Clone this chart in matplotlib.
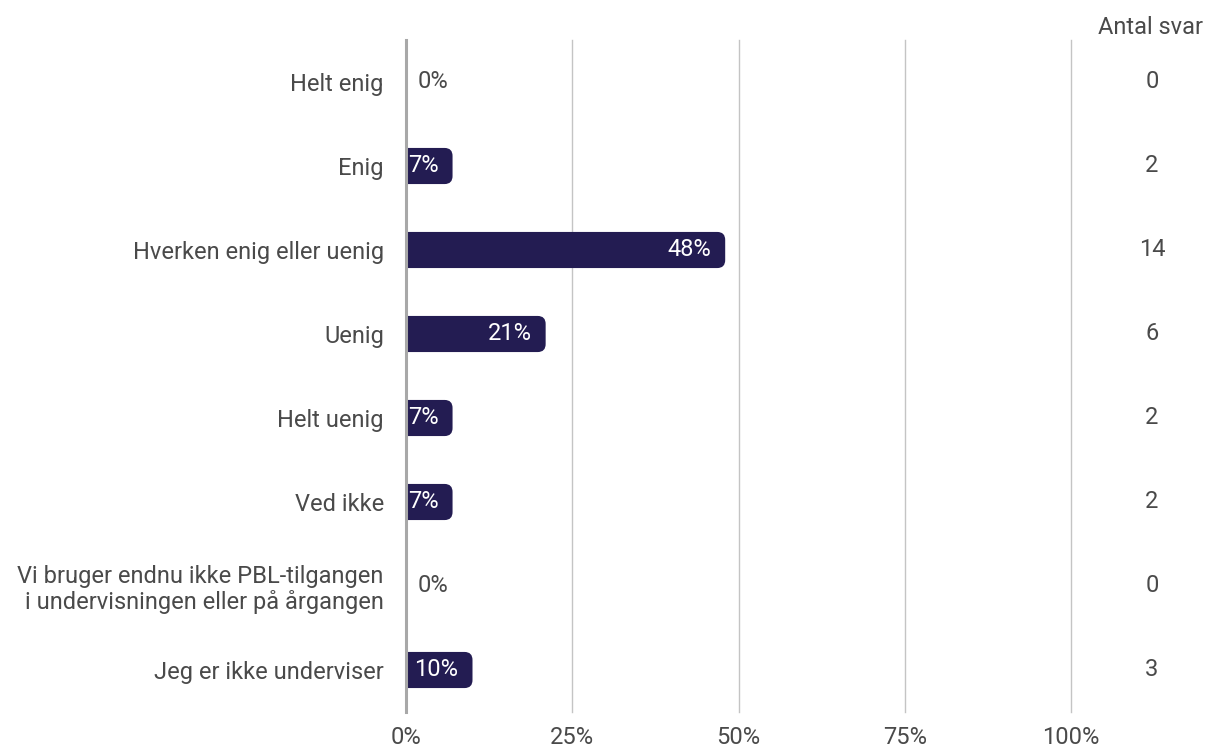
import matplotlib.pyplot as plt
from matplotlib.patches import FancyBboxPatch
from matplotlib.transforms import blended_transform_factory

plt.rcParams['font.family'] = ['Roboto', 'DejaVu Sans']

# data
categories = ['Helt enig', 'Enig', 'Hverken enig eller uenig', 'Uenig',
              'Helt uenig', 'Ved ikke',
              'Vi bruger endnu ikke PBL-tilgangen\ni undervisningen eller på årgangen',
              'Jeg er ikke underviser']
percents = [0, 7, 48, 21, 7, 7, 0, 10]
counts = [0, 2, 14, 6, 2, 2, 0, 3]
xticks = [0, 25, 50, 75, 100]

bar_color = '#231c52'
text_color = '#4a4a4a'
fs = 17

fig = plt.figure(figsize=(12.1, 7.49), dpi=100)
ax = fig.add_axes([406 / 1210, 1 - 712 / 749, 665 / 1210, 672 / 749])

y = list(range(len(categories)))
bars = ax.barh(y, percents, height=0.43, color='none')
ax.set_xlim(0, 100)
ax.set_ylim(len(categories) - 0.5, -0.5)

# rounded bars (right corners), left corners hidden behind the axis
for b, p in zip(bars, percents):
    if p <= 0:
        continue
    x0, y0 = b.get_x(), b.get_y()
    w, h = b.get_width(), b.get_height()
    patch = FancyBboxPatch((x0 - 3, y0), w + 3, h,
                           boxstyle='round,pad=0,rounding_size=1.2',
                           mutation_aspect=0.079,
                           facecolor=bar_color, edgecolor='none', zorder=3)
    ax.add_patch(patch)

# grid
for t in xticks[1:]:
    ax.axvline(t, color='#c4c4c4', lw=1, zorder=1, clip_on=False)
ax.axvline(0, color='#a8a8a8', lw=2.2, zorder=4, clip_on=False)

for s in ax.spines.values():
    s.set_visible(False)

ax.set_xticks(xticks)
ax.set_xticklabels([f'{t}%' for t in xticks], fontsize=fs, color=text_color)
ax.tick_params(axis='x', length=0, pad=10)
ax.set_yticks(y)
ax.set_yticklabels(categories, fontsize=fs, color=text_color, ha='right',
                   multialignment='right', linespacing=1.1)
ax.tick_params(axis='y', length=0, pad=16)

# value labels
px = 100 / 665
for yi, p in zip(y, percents):
    if p > 0:
        ax.text(p - 14 * px, yi, f'{p}%', color='white', fontsize=fs,
                ha='right', va='center', zorder=5)
    else:
        ax.text(12 * px, yi, f'{p}%', color=text_color, fontsize=fs,
                ha='left', va='center', zorder=5)

# counts column
trans = blended_transform_factory(fig.transFigure, ax.transData)
fig.text(1150 / 1210, 1 - 28 / 749, 'Antal svar', fontsize=fs,
         color=text_color, ha='center', va='center')
for yi, c in zip(y, counts):
    ax.text(1152 / 1210, yi, str(c), transform=trans, fontsize=fs,
            color=text_color, ha='center', va='center')

fig.savefig('out.png', dpi=100)
